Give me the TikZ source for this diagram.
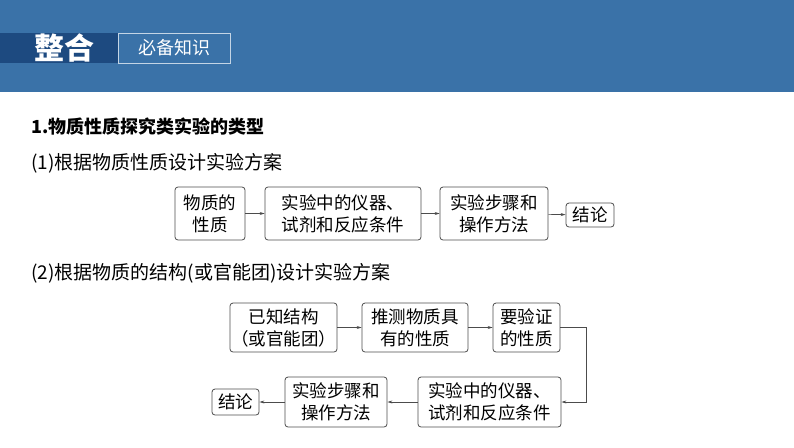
\documentclass[tikz,border=0pt]{standalone}
\usepackage{fontspec}
\newfontfamily\cjk{Noto Sans CJK SC}
\usetikzlibrary{arrows.meta}
\definecolor{band}{HTML}{3A72A8}
\definecolor{dark}{HTML}{1D4A80}
\begin{document}
\begin{tikzpicture}[x=1pt,y=-1pt,
  bx/.style={draw=black!70,rounded corners=3pt,line width=0.8pt,inner sep=0pt,align=center,font=\cjk\fontsize{17.5}{22}\selectfont},
  ar/.style={draw=black!70,line width=0.7pt,-{Stealth[length=5pt,width=3pt]}},
  ttl/.style={anchor=west,font=\cjk\fontsize{19}{22}\selectfont}]
\useasboundingbox (0,0) rectangle (794,447);
\fill[band] (0,0) rectangle (794,92);
\fill[dark] (0,33) rectangle (118,63);
\draw[white!70!band,line width=0.6pt] (118,33) rectangle (230,63);
\node[font=\cjk\bfseries\fontsize{30}{32}\selectfont,text=white] (h1) at (64,48) {整合};
\node[font=\cjk\fontsize{18}{20}\selectfont,text=white] (h2) at (174,48) {必备知识};
\node[ttl,font=\cjk\bfseries\fontsize{18}{20}\selectfont] (t1) at (28,127) {1.物质性质探究类实验的类型};
\node[ttl] (t2) at (28,163) {(1)根据物质性质设计实验方案};
\node[ttl] (t3) at (28,273) {(2)根据物质的结构(或官能团)设计实验方案};
% row 1
\node[bx,minimum width=70,minimum height=53] (a1) at (210,213.5) {物质的\\性质};
\node[bx,minimum width=156,minimum height=53] (a2) at (343,213.5) {实验中的仪器、\\试剂和反应条件};
\node[bx,minimum width=108,minimum height=53] (a3) at (494,213.5) {实验步骤和\\操作方法};
\node[bx,minimum width=48,minimum height=24] (a4) at (590,215) {结论};
\draw[ar] (a1) -- (a2);
\draw[ar] (a2) -- (a3);
\draw[ar] (a3) -- (a4);
% row 2
\node[bx,minimum width=107,minimum height=49] (b1) at (283.5,327.5) {已知结构\\（或官能团）};
\node[bx,minimum width=106,minimum height=49] (b2) at (415,327.5) {推测物质具\\有的性质};
\node[bx,minimum width=67,minimum height=49] (b3) at (526.5,327.5) {要验证\\的性质};
\node[bx,minimum width=143,minimum height=50] (b4) at (489.5,402) {实验中的仪器、\\试剂和反应条件};
\node[bx,minimum width=102,minimum height=50] (b5) at (336,402) {实验步骤和\\操作方法};
\node[bx,minimum width=47,minimum height=26] (b6) at (235.5,402) {结论};
\coordinate (c1) at (586,327.5);
\coordinate (c2) at (586,402);
\draw[ar] (b1) -- (b2);
\draw[ar] (b2) -- (b3);
\draw[ar] (b3.east) -- (c1) -- (c2) -- (b4.east);
\draw[ar] (b4) -- (b5);
\draw[ar] (b5) -- (b6);
\end{tikzpicture}
\end{document}
